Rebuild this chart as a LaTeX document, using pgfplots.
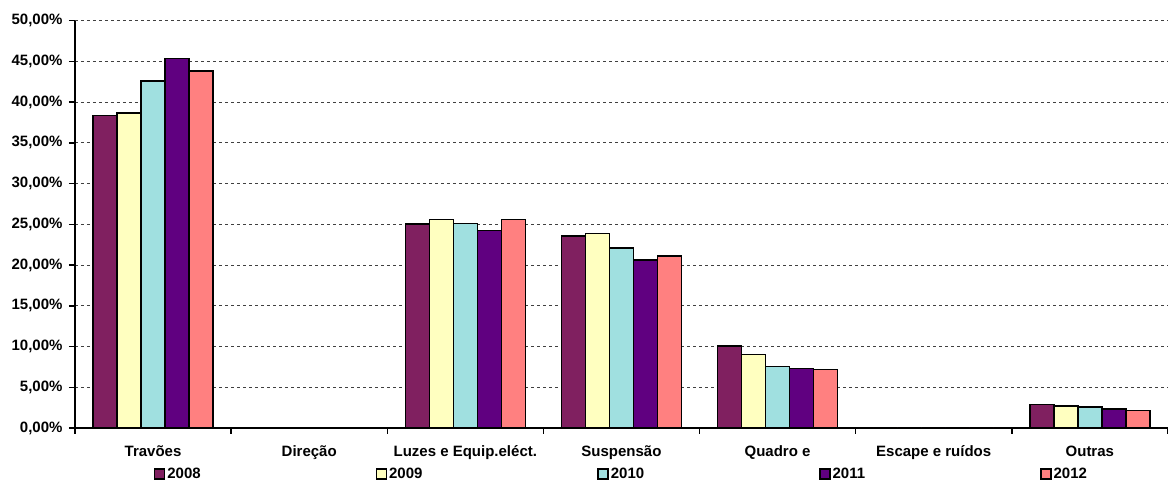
\documentclass[border=0pt]{standalone}
\usepackage{pgfplots}
\pgfplotsset{compat=1.18}
\usepackage{fontspec}
\setmainfont{Liberation Sans}
\definecolor{c08}{RGB}{128,32,96}
\definecolor{c09}{RGB}{255,255,192}
\definecolor{c10}{RGB}{160,224,224}
\definecolor{c11}{RGB}{96,0,128}
\definecolor{c12}{RGB}{255,128,128}
\pgfplotsset{sqleg/.style={legend image code/.code={\draw[##1,draw=black,line width=1.4pt] (0pt,-5pt) rectangle (10pt,5pt);}}}
\begin{document}
\begin{tikzpicture}[font=\bfseries\fontsize{15}{18}\selectfont]
\begin{axis}[
  at={(0,0)}, anchor=south west,
  scale only axis,
  width=1093pt, height=407.4pt,
  xmin=-0.5, xmax=6.5,
  ymin=0, ymax=50,
  ybar=0pt, bar width=24pt,
  axis x line*=bottom, axis y line*=left,
  axis line style={line width=1.6pt, black},
  xtick={-0.5,0.5,1.5,2.5,3.5,4.5,5.5,6.5},
  x tick label as interval,
  xticklabels={Travões,Direção,Luzes e Equip.eléct.,Suspensão,Quadro e,Escape e ruídos,Outras},
  ytick={0,5,...,50},
  yticklabels={{0,00\%},{5,00\%},{10,00\%},{15,00\%},{20,00\%},{25,00\%},{30,00\%},{35,00\%},{40,00\%},{45,00\%},{50,00\%}},
  tick align=outside,
  major tick length=6pt,
  tick style={line width=1.5pt, black},
  ymajorgrids,
  major grid style={dash pattern=on 3pt off 3pt, line width=0.8pt, black!75},
  every tick label/.append style={font=\bfseries\fontsize{15}{18}\selectfont},
  xticklabel style={yshift=-8pt},
  yticklabel style={xshift=-3pt},
  legend columns=5,
  legend style={at={(0.5,0)}, anchor=north, yshift=-36pt, draw=none, fill=none,
    font=\bfseries\fontsize{15}{18}\selectfont,
    /tikz/every even column/.append style={column sep=173pt}},
  legend cell align=left,
]
\addplot[fill=c08, draw=black, line width=1.6pt, sqleg] coordinates {(0,38.34) (1,0) (2,25.04) (3,23.57) (4,10.06) (5,0) (6,2.90)};
\addplot[fill=c09, draw=black, line width=1.6pt, sqleg] coordinates {(0,38.66) (1,0) (2,25.57) (3,23.86) (4,9.00) (5,0) (6,2.70)};
\addplot[fill=c10, draw=black, line width=1.6pt, sqleg] coordinates {(0,42.60) (1,0) (2,25.08) (3,22.09) (4,7.53) (5,0) (6,2.58)};
\addplot[fill=c11, draw=black, line width=1.6pt, sqleg] coordinates {(0,45.37) (1,0) (2,24.22) (3,20.62) (4,7.29) (5,0) (6,2.33)};
\addplot[fill=c12, draw=black, line width=1.6pt, sqleg] coordinates {(0,43.78) (1,0) (2,25.60) (3,21.11) (4,7.20) (5,0) (6,2.13)};
\legend{2008,2009,2010,2011,2012}
\end{axis}
\pgfresetboundingbox
\path[use as bounding box] (-75pt,-53pt) rectangle (1093pt,428pt);
\end{tikzpicture}
\end{document}
